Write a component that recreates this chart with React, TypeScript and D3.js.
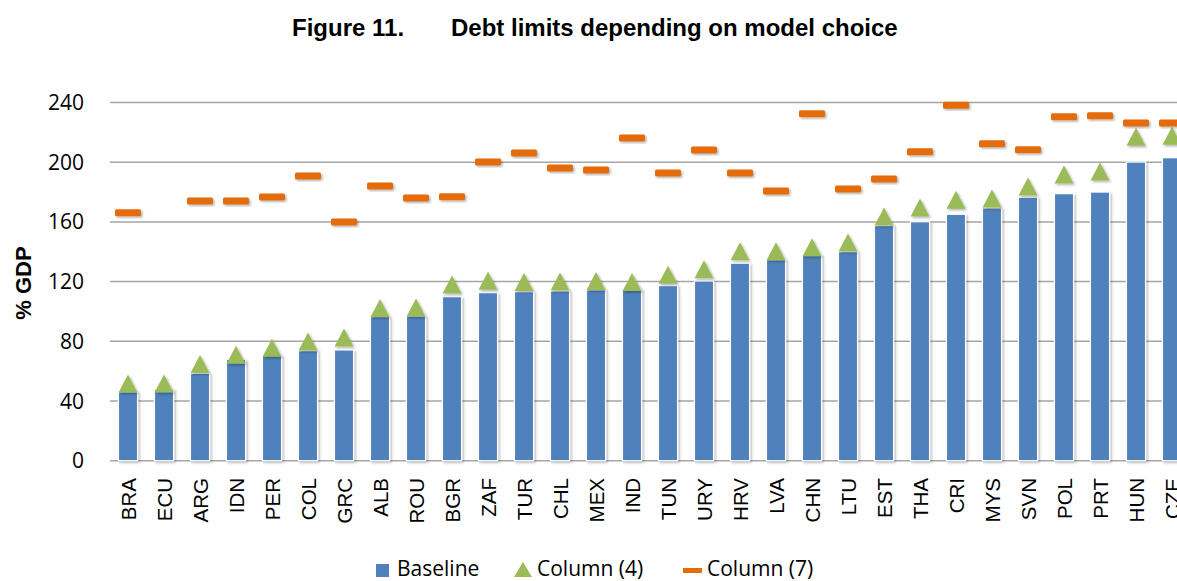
import React from "react";
import * as d3 from "d3";

const categories = ["BRA","ECU","ARG","IDN","PER","COL","GRC","ALB","ROU","BGR","ZAF","TUR","CHL","MEX","IND","TUN","URY","HRV","LVA","CHN","LTU","EST","THA","CRI","MYS","SVN","POL","PRT","HUN","CZE"];
const baseline = [46.2,47.8,58.5,67.9,70.6,73.7,74.2,96.5,97,109.9,112.6,113.2,113.7,114.4,114.8,117.3,120.4,132.3,134.7,137.8,140,157.5,160.1,165.1,169.3,176.5,178.9,180,200.1,203];
const column4 = [51.7,51.7,64.8,71,75.7,79.9,82.5,102.3,102.6,118,120.5,119.7,120,120.4,119.7,124.6,128.3,140.4,140.4,143,146.2,163.6,169.6,174.8,175.7,183.7,191.8,193.8,217.1,217.7];
const column7: (number | null)[] = [166.2,null,174,174,176.7,190.8,159.9,184.1,176,176.9,200.1,206.2,196.1,194.8,216.2,192.8,208.2,192.8,180.7,232.5,182,188.7,207,238.1,212.4,208.4,230.5,231.2,226.3,226.3];
const yTicks = [0,40,80,120,160,200,240];

const W = 1177, H = 581;
const BLUE = "#4F81BD", GREEN = "#9BBB59", ORANGE = "#E46C0A";
const tickFont = "'Open Sans', sans-serif";
const arial = "'Liberation Sans', Arial, sans-serif";

export default function App() {
  const x = d3.scaleBand<string>().domain(categories).range([110, 1190]).paddingInner(0.47).paddingOuter(0.235);
  const y = d3.scaleLinear().domain([0, 240]).range([460.7, 102.5]);
  const bw = x.bandwidth();
  const triW = 19, triH = 18;
  const dashW = 26, dashH = 7;

  return (
    <svg width={W} height={H} style={{ display: "block", position: "absolute", left: 0, top: 0 }}>
      <defs>
        <filter id="sh" x="-30%" y="-30%" width="160%" height="160%">
          <feDropShadow dx="1.5" dy="1.5" stdDeviation="1.3" floodColor="#000" floodOpacity="0.3" />
        </filter>
      </defs>
      <rect width={W} height={H} fill="#fff" />
      <text y={36} fontFamily={arial} fontWeight="bold" fontSize={24} fill="#000">
        <tspan x={292}>Figure 11.</tspan>
        <tspan x={451}>Debt limits depending on model choice</tspan>
      </text>
      {yTicks.map(t => (
        <g key={t}>
          <line x1={110} x2={W} y1={y(t)} y2={y(t)} stroke="#a6a6a6" strokeWidth={1.5} />
          <text x={84} y={y(t)} dy="0.36em" textAnchor="end" fontFamily={tickFont} fontSize={21} fill="#000">{t}</text>
        </g>
      ))}
      <text transform={`translate(31,283) rotate(-90)`} textAnchor="middle" fontFamily={arial} fontWeight="bold" fontSize={22} fill="#000">% GDP</text>
      {categories.map((c, i) => (
        <rect key={c} x={x(c)!} y={y(baseline[i])} width={bw} height={y(0) - y(baseline[i])} fill={BLUE} stroke="#fff" strokeWidth={1.2} filter="url(#sh)" />
      ))}
      {categories.map((c, i) => {
        const cx = x(c)! + bw / 2;
        const cy = y(column4[i]);
        const p = d3.path();
        p.moveTo(cx, cy - triH / 2);
        p.lineTo(cx + triW / 2, cy + triH / 2);
        p.lineTo(cx - triW / 2, cy + triH / 2);
        p.closePath();
        return <path key={c} d={p.toString()} fill={GREEN} filter="url(#sh)" />;
      })}
      {categories.map((c, i) => {
        const v = column7[i];
        if (v == null) return null;
        const cx = x(c)! + bw / 2;
        return <rect key={c} x={cx - dashW / 2} y={y(v) - dashH / 2} width={dashW} height={dashH} rx={1.5} fill={ORANGE} filter="url(#sh)" />;
      })}
      {categories.map(c => (
        <text key={c} transform={`translate(${x(c)! + bw / 2},478) rotate(-90)`} textAnchor="end" dominantBaseline="central" fontFamily={arial} fontSize={20.5} fill="#000">{c}</text>
      ))}
      <g fontFamily={tickFont} fontSize={21} fill="#000">
        <rect x={376} y={564} width={13} height={13} fill={BLUE} />
        <text x={397} y={576}>Baseline</text>
        <path d={`M523,562 L532,577 L514,577 Z`} fill={GREEN} />
        <text x={537} y={576}>Column (4)</text>
        <rect x={683} y={568} width={19} height={5} fill={ORANGE} />
        <text x={707} y={576}>Column (7)</text>
      </g>
    </svg>
  );
}
